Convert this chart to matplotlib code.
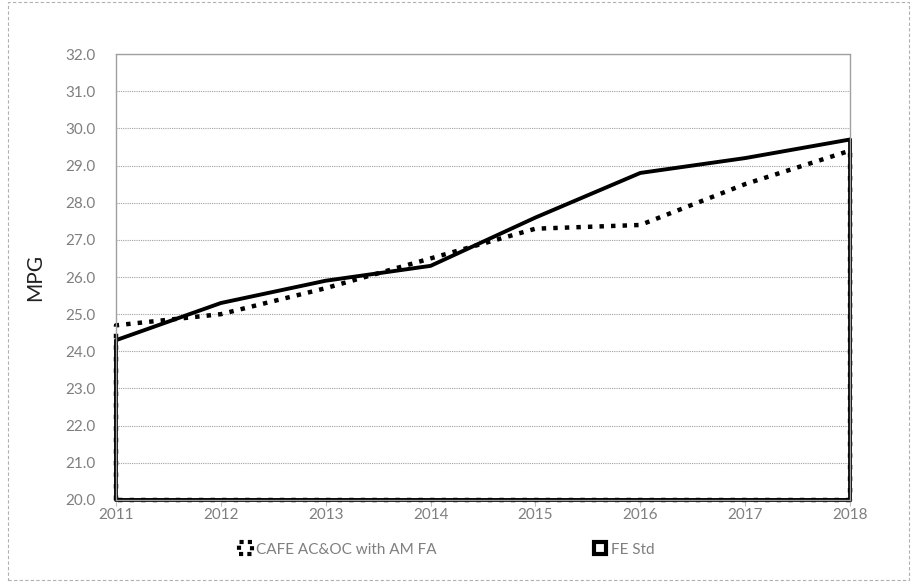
import matplotlib
matplotlib.use("Agg")
import matplotlib.pyplot as plt
from matplotlib.patches import Rectangle, Patch

years = [2011, 2012, 2013, 2014, 2015, 2016, 2017, 2018]
cafe = [24.7, 25.0, 25.7, 26.5, 27.3, 27.4, 28.5, 29.4]
fe_std = [24.3, 25.3, 25.9, 26.3, 27.6, 28.8, 29.2, 29.7]
series_names = ["CAFE AC&OC with AM FA", "FE Std"]
yticks = [20 + i for i in range(13)]

plt.rcParams['font.family'] = ['Lato', 'DejaVu Sans']

fig = plt.figure(figsize=(9.17, 5.82), dpi=100)
ax = fig.add_axes([0.1265, 0.1409, 0.8005, 0.7663])

p1 = ax.fill_between(years, cafe, 20, facecolor='none', edgecolor='black', linestyle=(0, (1, 1.6)), linewidth=3.2)
p2 = ax.fill_between(years, fe_std, 20, facecolor='none', edgecolor='black', linestyle='-', linewidth=2.8)
p1.set_clip_on(False)
p2.set_clip_on(False)

ax.set_xlim(2011, 2018)
ax.set_ylim(20, 32)
ax.set_yticks(yticks)
ax.set_yticklabels([f"{v:.1f}" for v in yticks])
ax.set_xticks(years)
ax.set_xticklabels([str(y) for y in years])
ax.tick_params(axis='y', length=0, pad=15, labelsize=11, labelcolor='#7f7f7f')
ax.tick_params(axis='x', length=4, color='#bfbfbf', pad=2, labelsize=11, labelcolor='#7f7f7f')
ax.grid(axis='y', color='#a0a0a0', linestyle=(0, (1, 1)), linewidth=0.8)
ax.set_axisbelow(True)
for s in ['top', 'left', 'right', 'bottom']:
    ax.spines[s].set_color('#a0a0a0')
    ax.spines[s].set_linestyle((0, (1, 1)))
    ax.spines[s].set_linewidth(1.0)
ax.set_ylabel("MPG", fontsize=15, color='#222222', labelpad=14)

handles = [Patch(facecolor='white', edgecolor='black', linestyle=(0, (1, 1)), linewidth=3),
           Patch(facecolor='white', edgecolor='black', linewidth=3)]
leg = fig.legend(handles, series_names, loc='lower left', bbox_to_anchor=(0.246, 0.02), ncol=2,
                 frameon=False, fontsize=11, handlelength=0.8, handleheight=0.8,
                 handletextpad=0.3, columnspacing=10.3)
for t in leg.get_texts():
    t.set_color('#7f7f7f')

fig.patches.append(Rectangle((0.009, 0.004), 0.982, 0.992, transform=fig.transFigure,
                             fill=False, edgecolor='#b0b0b0', linestyle=(0, (3, 2)), linewidth=0.8))

fig.savefig("out.png", dpi=100)
